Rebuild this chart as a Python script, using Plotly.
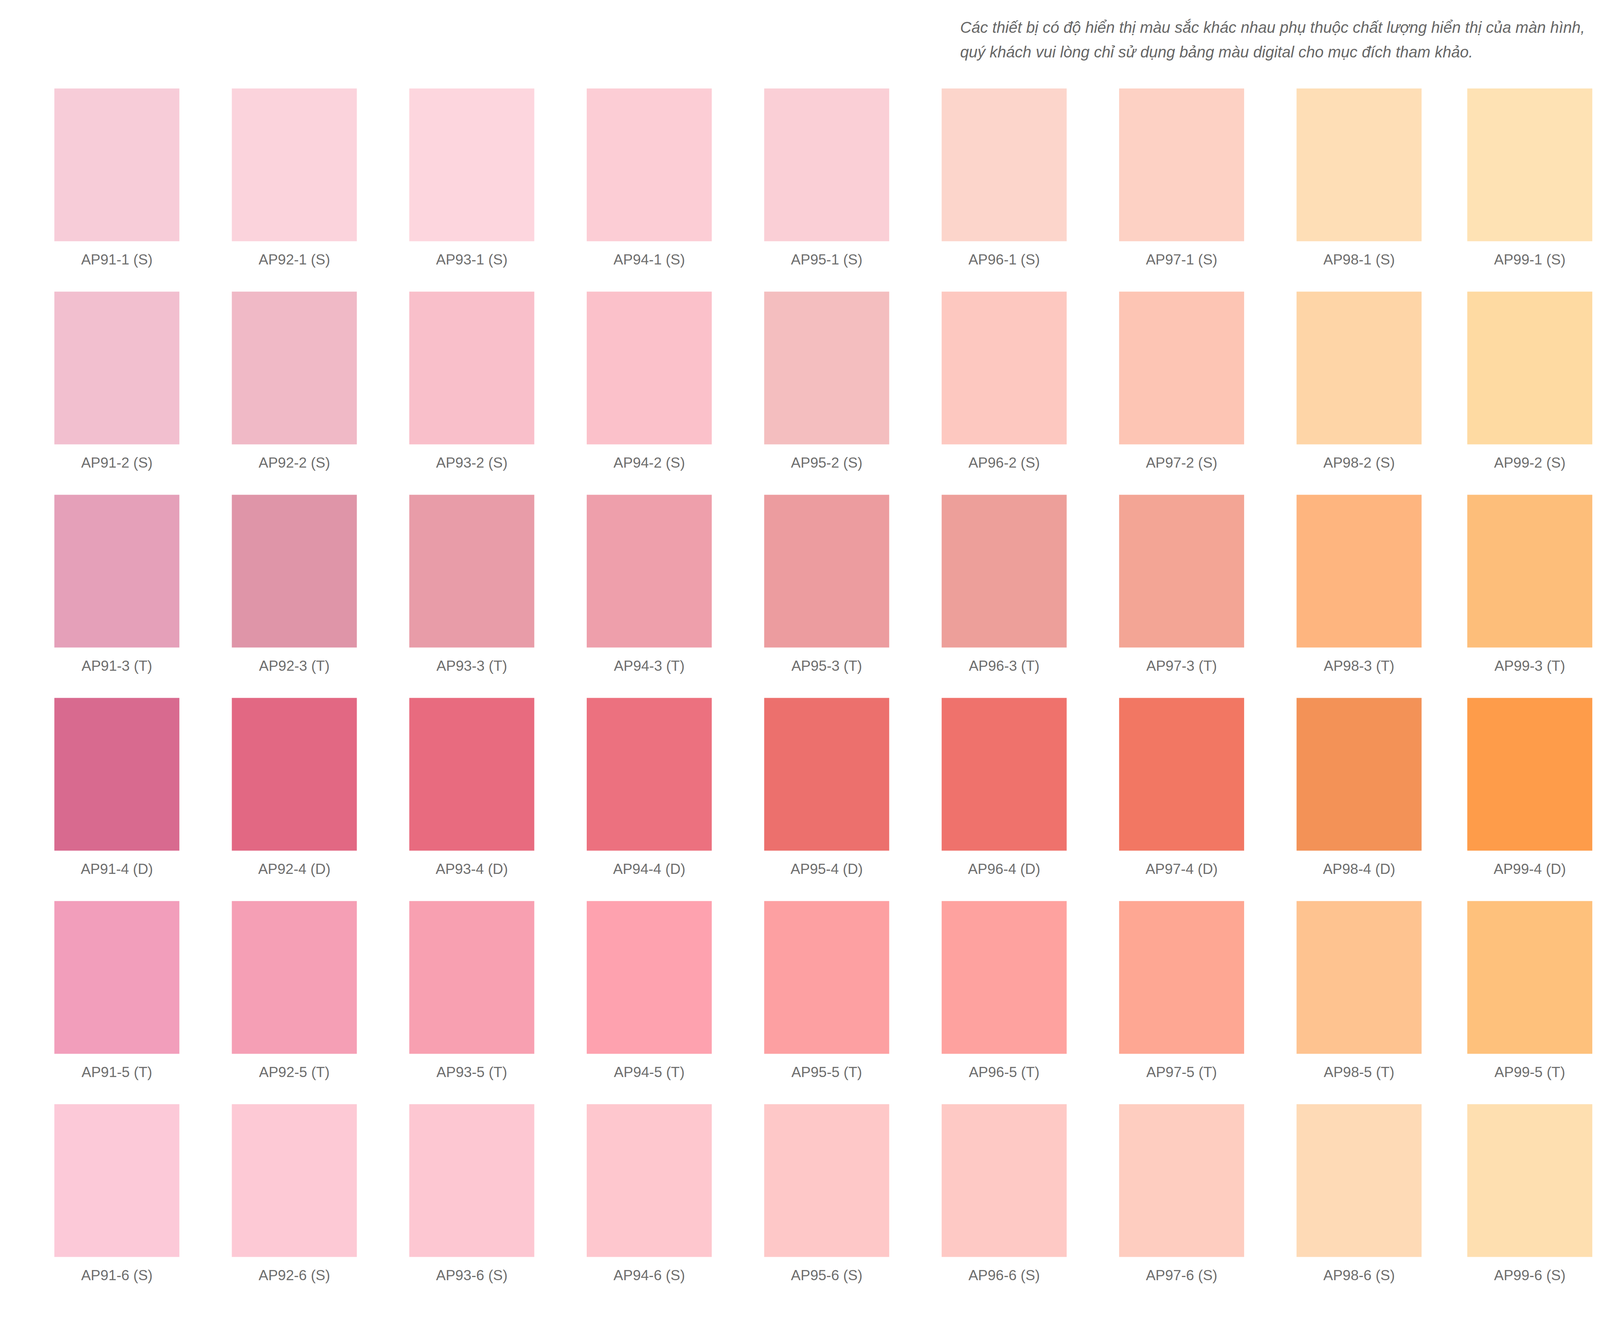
import plotly.graph_objects as go

# ---- data ----
series = ["AP91", "AP92", "AP93", "AP94", "AP95", "AP96", "AP97", "AP98", "AP99"]
levels = ["1", "2", "3", "4", "5", "6"]
finish = ["S", "S", "T", "D", "T", "S"]

row1_colors = ["#F7CCD8", "#FBD3DC", "#FDD6DE", "#FCCDD5", "#FACFD6", "#FCD5CB", "#FDD1C4", "#FEDEB6", "#FEE2B4"]
row2_colors = ["#F2BFCF", "#F0B9C6", "#F9BFCA", "#FBC1CA", "#F4BEBF", "#FDC8C0", "#FDC5B4", "#FED5A7", "#FEDAA2"]
row3_colors = ["#E5A0B9", "#DF95A8", "#E89CA8", "#EE9FAB", "#EC9C9F", "#ED9F9A", "#F3A595", "#FEB57F", "#FDBE7A"]
row4_colors = ["#D86A8F", "#E26883", "#E86B7F", "#EC717F", "#EC706D", "#EF726C", "#F27763", "#F39257", "#FE9C4A"]
row5_colors = ["#F29EBB", "#F59FB5", "#F8A0B1", "#FEA2AF", "#FDA0A2", "#FEA29F", "#FEA793", "#FEC390", "#FEC17C"]
row6_colors = ["#FCC9D8", "#FDC9D5", "#FDC7D2", "#FEC7CE", "#FEC8C8", "#FEC9C5", "#FECDC0", "#FEDAB6", "#FEDFB0"]
row_colors = [row1_colors, row2_colors, row3_colors, row4_colors, row5_colors, row6_colors]

note_line1 = "Các thiết bị có độ hiển thị màu sắc khác nhau phụ thuộc chất lượng hiển thị của màn hình,"
note_line2 = "quý khách vui lòng chỉ sử dụng bảng màu digital cho mục đích tham khảo."

# ---- layout constants (reference frame 5004 x 3425, scaled to the window) ----
W, H = 5004, 3425
COL_STEP = 555.0      # between columns
ROW_STEP = 520.0      # between rows
SW = 391.0            # swatch size
X0 = 365.5            # centre of first column
Y0 = 226.5            # top of first row
LABEL_OFF = 441.5     # label centre below swatch top
col_pos = [0, 1, 2, 3, 4, 5, 6, 7, 7.962]
FONT = "Liberation Sans, Arial, Helvetica, sans-serif"

fig = go.Figure()
for r, lv in enumerate(levels):
    fig.add_trace(go.Bar(
        x=col_pos,
        y=[SW / ROW_STEP] * len(series),
        base=[r] * len(series),
        width=SW / COL_STEP,
        marker=dict(color=row_colors[r], line=dict(width=0)),
        hoverinfo="skip",
        showlegend=False,
    ))
    fig.add_trace(go.Scatter(
        x=col_pos,
        y=[r + LABEL_OFF / ROW_STEP] * len(series),
        mode="text",
        text=[f"{s}-{lv} ({finish[r]})" for s in series],
        textposition="middle center",
        textfont=dict(family=FONT, size=37, color="#6e6e6e"),
        hoverinfo="skip",
        showlegend=False,
    ))

for txt, ypix in [(note_line1, 70), (note_line2, 133)]:
    fig.add_annotation(
        text=txt, xref="paper", yref="paper",
        x=3000 / W, y=1 - ypix / H, xanchor="left", yanchor="middle",
        showarrow=False, align="left",
        font=dict(family=FONT, size=40, color="#666666", style="italic"),
    )

fig.update_layout(
    autosize=True,
    margin=dict(l=0, r=0, t=0, b=0),
    paper_bgcolor="white", plot_bgcolor="white",
    barmode="overlay",
    xaxis=dict(range=[-X0 / COL_STEP, (W - X0) / COL_STEP], visible=False, fixedrange=True),
    yaxis=dict(range=[(H - Y0) / ROW_STEP, -Y0 / ROW_STEP], visible=False, fixedrange=True),
)

post = (
    "document.documentElement.style.margin='0';"
    "document.documentElement.style.overflow='hidden';"
    "document.body.style.margin='0';"
    "document.body.style.overflow='hidden';"
    "var gd=document.getElementById('{plot_id}');"
    "gd.style.width=window.innerWidth+'px';"
    "gd.style.height=window.innerHeight+'px';"
    "Plotly.Plots.resize(gd);"
)

fig.write_html(
    "out.html",
    config={"displayModeBar": False, "responsive": True},
    default_width="100vw",
    default_height="100vh",
    post_script=post,
)
